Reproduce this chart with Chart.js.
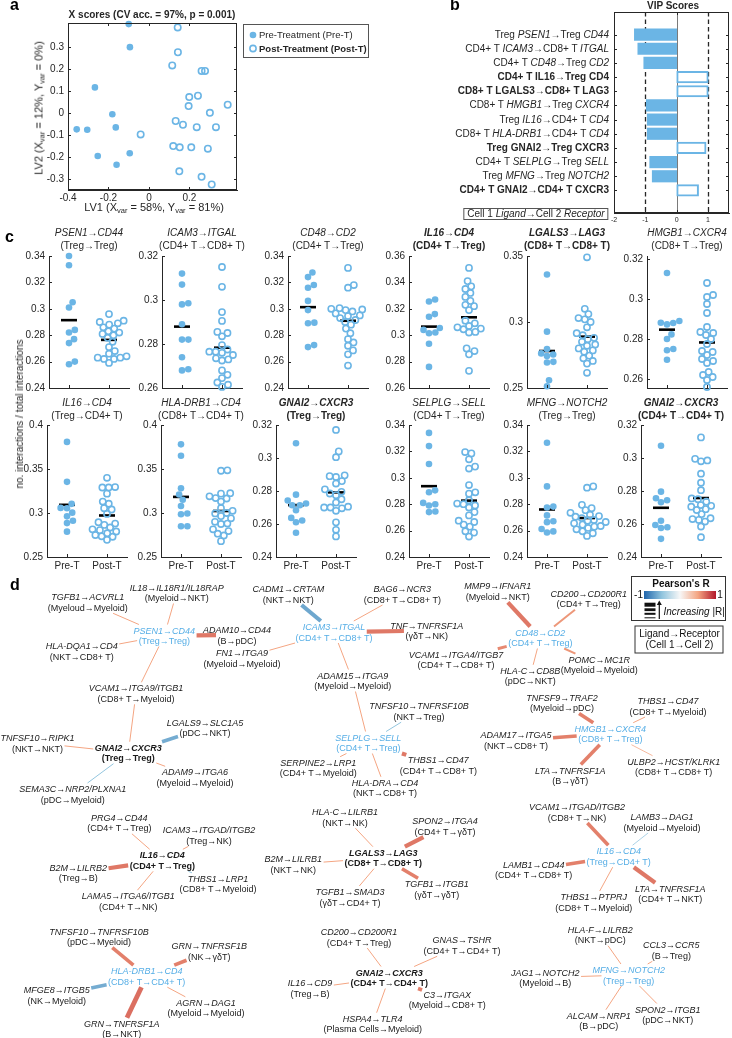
<!DOCTYPE html>
<html>
<head>
<meta charset="utf-8">
<script src="https://cdn.jsdelivr.net/npm/chart.js@4.4.1/dist/chart.umd.min.js"></script>
<style>
body { margin: 0; background: #fff; width: 732px; height: 1038px; position: relative; overflow: hidden;
       font-family: "Liberation Sans", Arial, Helvetica, sans-serif; color: #262626; }
canvas { position: absolute; }
.txt { position: absolute; white-space: nowrap; }
.panel { position: absolute; font-size: 16px; line-height: 16px; font-weight: bold; color: #000; }
sub { font-size: 7.5px; vertical-align: -2px; line-height: 0; }
</style>
</head>
<body>
<script>
const FONT = '"Liberation Sans", Arial, Helvetica, sans-serif';
const BLUE = '#6bb5e5';
const HUBBLUE = '#56aee6';

// ---- panel a: X scores ----
const preLV1 = [-0.100, -0.094, -0.267, -0.181, -0.357, -0.305, -0.164, -0.253, -0.095, -0.160];
const preLV2 = [0.405, 0.300, 0.117, -0.005, -0.074, -0.076, -0.065, -0.195, -0.183, -0.235];
const postLV1 = [0.142, 0.143, 0.115, 0.260, 0.277, 0.199, 0.242, 0.196, 0.389, 0.301, 0.132, 0.168,
                 0.236, 0.331, -0.041, 0.120, 0.152, 0.209, 0.291, 0.150, 0.260, 0.310];
const postLV2 = [0.390, 0.277, 0.217, 0.192, 0.192, 0.073, 0.079, 0.032, 0.038, 0.001, -0.036, -0.053,
                 -0.064, -0.064, -0.097, -0.150, -0.156, -0.156, -0.162, -0.265, -0.290, -0.325];
const lv1Ticks = [-0.4, -0.2, 0, 0.2];
const lv2Ticks = [-0.3, -0.2, -0.1, 0, 0.1, 0.2, 0.3];
const groupNames = ['Pre-Treatment (Pre-T)', 'Post-Treatment (Post-T)'];

// ---- panel b: VIP scores ----
const vipLabels = [
  'Treg <i>PSEN1</i>→Treg <i>CD44</i>',
  'CD4+ T <i>ICAM3</i>→CD8+ T <i>ITGAL</i>',
  'CD4+ T <i>CD48</i>→Treg <i>CD2</i>',
  '<b>CD4+ T IL16→Treg CD4</b>',
  '<b>CD8+ T LGALS3→CD8+ T LAG3</b>',
  'CD8+ T <i>HMGB1</i>→Treg <i>CXCR4</i>',
  'Treg <i>IL16</i>→CD4+ T <i>CD4</i>',
  'CD8+ T <i>HLA-DRB1</i>→CD4+ T <i>CD4</i>',
  '<b>Treg GNAI2→Treg CXCR3</b>',
  'CD4+ T <i>SELPLG</i>→Treg <i>SELL</i>',
  'Treg <i>MFNG</i>→Treg <i>NOTCH2</i>',
  '<b>CD4+ T GNAI2→CD4+ T CXCR3</b>'
];
const vipScores = [-1.35, -1.24, -1.05, 1.01, 1.01, -0.97, -0.94, -0.94, 0.94, -0.86, -0.78, 0.70];
const vipTicks = [-2, -1, 0, 1];

// ---- panel c: no. interactions / total interactions ----
const psen1Pre = [0.340, 0.333, 0.305, 0.301, 0.284, 0.282, 0.277, 0.274, 0.260, 0.258];
const psen1Post = [0.296, 0.291, 0.290, 0.289, 0.288, 0.286, 0.285, 0.283, 0.282, 0.281, 0.280, 0.278, 0.275, 0.271, 0.268, 0.266, 0.264, 0.263, 0.263, 0.262, 0.262, 0.259];
const icam3Pre = [0.312, 0.307, 0.2985, 0.298, 0.289, 0.282, 0.282, 0.274, 0.2685, 0.268];
const icam3Post = [0.315, 0.306, 0.2945, 0.2905, 0.2855, 0.285, 0.2835, 0.2795, 0.2775, 0.2765, 0.2765, 0.276, 0.275, 0.2735, 0.273, 0.2725, 0.268, 0.266, 0.2645, 0.2625, 0.2615, 0.2605];
const cd48Pre = [0.3275, 0.324, 0.318, 0.316, 0.306, 0.299, 0.2895, 0.289, 0.2725, 0.271];
const cd48Post = [0.331, 0.318, 0.316, 0.3005, 0.300, 0.2995, 0.299, 0.298, 0.2965, 0.295, 0.2945, 0.293, 0.2915, 0.290, 0.288, 0.285, 0.2815, 0.277, 0.2745, 0.272, 0.2685, 0.2655, 0.257];
const il16TregPre = [0.327, 0.3255, 0.316, 0.314, 0.3055, 0.304, 0.302, 0.3015, 0.2935, 0.276];
const il16TregPost = [0.351, 0.341, 0.337, 0.335, 0.332, 0.329, 0.326, 0.323, 0.322, 0.319, 0.311, 0.309, 0.307, 0.306, 0.305, 0.3045, 0.3025, 0.302, 0.290, 0.288, 0.2855, 0.273];
const lgals3Pre = [0.336, 0.2927, 0.2795, 0.2762, 0.2754, 0.2742, 0.2698, 0.2693, 0.2559, 0.2513];
const lgals3Post = [0.349, 0.310, 0.306, 0.303, 0.302, 0.300, 0.296, 0.2915, 0.290, 0.288, 0.287, 0.285, 0.283, 0.282, 0.280, 0.2785, 0.2775, 0.2745, 0.2725, 0.2705, 0.2685, 0.2615];
const hmgb1Pre = [0.313, 0.289, 0.2881, 0.288, 0.2873, 0.2823, 0.280, 0.275, 0.2744, 0.2696];
const hmgb1Post = [0.308, 0.302, 0.301, 0.2975, 0.293, 0.286, 0.2835, 0.283, 0.282, 0.280, 0.2775, 0.274, 0.2735, 0.272, 0.270, 0.269, 0.268, 0.2635, 0.262, 0.261, 0.2595, 0.256];
const il16Cd4Pre = [0.3808, 0.3354, 0.3104, 0.3054, 0.3058, 0.3004, 0.2962, 0.2912, 0.2885, 0.2788];
const il16Cd4Post = [0.340, 0.3295, 0.329, 0.329, 0.322, 0.313, 0.3105, 0.3055, 0.304, 0.299, 0.2895, 0.288, 0.2865, 0.2835, 0.2815, 0.2805, 0.279, 0.277, 0.275, 0.2735, 0.273, 0.2695];
const hladrb1Pre = [0.378, 0.365, 0.328, 0.321, 0.315, 0.308, 0.2995, 0.2985, 0.285, 0.285];
const hladrb1Post = [0.3485, 0.348, 0.3225, 0.322, 0.319, 0.317, 0.3165, 0.313, 0.3055, 0.3025, 0.300, 0.2995, 0.2965, 0.294, 0.290, 0.288, 0.2875, 0.2815, 0.2795, 0.2765, 0.2745, 0.268];
const gnai2TregPre = [0.3089, 0.2778, 0.2742, 0.2724, 0.2714, 0.2714, 0.2683, 0.2637, 0.2621, 0.2611, 0.2547];
const gnai2TregPost = [0.317, 0.304, 0.3005, 0.2895, 0.289, 0.2885, 0.286, 0.2845, 0.281, 0.2795, 0.2785, 0.2775, 0.275, 0.273, 0.2705, 0.270, 0.270, 0.2695, 0.268, 0.261, 0.2565, 0.2525];
const selplgPre = [0.334, 0.324, 0.3105, 0.2905, 0.289, 0.281, 0.280, 0.279, 0.2745, 0.274];
const selplgPost = [0.3195, 0.3185, 0.314, 0.3085, 0.307, 0.2945, 0.289, 0.288, 0.283, 0.2805, 0.280, 0.279, 0.2775, 0.274, 0.2715, 0.2675, 0.2665, 0.2645, 0.263, 0.2595, 0.2585, 0.2555];
const mfngPre = [0.3266, 0.2935, 0.2782, 0.2775, 0.2715, 0.2671, 0.2664, 0.2612, 0.2594, 0.2586];
const mfngPost = [0.2935, 0.2925, 0.2795, 0.277, 0.2755, 0.2735, 0.272, 0.271, 0.2705, 0.2695, 0.268, 0.2675, 0.2665, 0.2655, 0.2645, 0.2635, 0.263, 0.262, 0.261, 0.2595, 0.258, 0.256];
const gnai2Cd4Pre = [0.3074, 0.2796, 0.2756, 0.2744, 0.2732, 0.262, 0.2594, 0.258, 0.2576, 0.251];
const gnai2Cd4Post = [0.3125, 0.2995, 0.2985, 0.298, 0.2905, 0.285, 0.2805, 0.2755, 0.275, 0.2735, 0.2715, 0.271, 0.2705, 0.269, 0.2685, 0.266, 0.2635, 0.263, 0.2625, 0.2615, 0.2585, 0.252];

const stripPre = [psen1Pre, icam3Pre, cd48Pre, il16TregPre, lgals3Pre, hmgb1Pre, il16Cd4Pre, hladrb1Pre, gnai2TregPre, selplgPre, mfngPre, gnai2Cd4Pre];
const stripPost = [psen1Post, icam3Post, cd48Post, il16TregPost, lgals3Post, hmgb1Post, il16Cd4Post, hladrb1Post, gnai2TregPost, selplgPost, mfngPost, gnai2Cd4Post];
const stripGenes = ['PSEN1→CD44', 'ICAM3→ITGAL', 'CD48→CD2', 'IL16→CD4', 'LGALS3→LAG3', 'HMGB1→CXCR4',
                    'IL16→CD4', 'HLA-DRB1→CD4', 'GNAI2→CXCR3', 'SELPLG→SELL', 'MFNG→NOTCH2', 'GNAI2→CXCR3'];
const stripCells = ['(Treg→Treg)', '(CD4+ T→CD8+ T)', '(CD4+ T→Treg)', '(CD4+ T→Treg)', '(CD8+ T→CD8+ T)', '(CD8+ T→Treg)',
                    '(Treg→CD4+ T)', '(CD8+ T→CD4+ T)', '(Treg→Treg)', '(CD4+ T→Treg)', '(Treg→Treg)', '(CD4+ T→CD4+ T)'];
const stripBold = [false, false, false, true, true, false, false, false, true, false, false, true];
const stripYMin = [0.24, 0.26, 0.24, 0.26, 0.25, 0.2555, 0.25, 0.25, 0.24, 0.24, 0.24, 0.24];
const stripYMax = [0.34, 0.32, 0.34, 0.36, 0.35, 0.3215, 0.40, 0.40, 0.32, 0.34, 0.34, 0.32];
const stripTicks = [
  [0.24, 0.26, 0.28, 0.30, 0.32, 0.34], [0.26, 0.28, 0.30, 0.32], [0.24, 0.26, 0.28, 0.30, 0.32, 0.34],
  [0.26, 0.28, 0.30, 0.32, 0.34, 0.36], [0.25, 0.30, 0.35], [0.26, 0.28, 0.30, 0.32],
  [0.25, 0.30, 0.35, 0.40], [0.25, 0.30, 0.35, 0.40], [0.24, 0.26, 0.28, 0.30, 0.32],
  [0.24, 0.26, 0.28, 0.30, 0.32, 0.34], [0.24, 0.26, 0.28, 0.30, 0.32, 0.34], [0.24, 0.26, 0.28, 0.30, 0.32]
];
const groupTicks = ['Pre-T', 'Post-T'];

// ---- panel d: networks ----
const netLR = ['PSEN1→CD44', 'TGFB1→ACVRL1', 'IL18→IL18R1/IL18RAP', 'ADAM10→CD44', 'HLA-DQA1→CD4', 'VCAM1→ITGA9/ITGB1',
  'GNAI2→CXCR3', 'TNFSF10→RIPK1', 'LGALS9→SLC1A5', 'ADAM9→ITGA6', 'SEMA3C→NRP2/PLXNA1',
  'ICAM3→ITGAL', 'CADM1→CRTAM', 'BAG6→NCR3', 'TNF→TNFRSF1A', 'FN1→ITGA9', 'ADAM15→ITGA9',
  'SELPLG→SELL', 'TNFSF10→TNFRSF10B', 'SERPINE2→LRP1', 'THBS1→CD47', 'HLA-DRA→CD4',
  'CD48→CD2', 'MMP9→IFNAR1', 'CD200→CD200R1', 'VCAM1→ITGA4/ITGB7', 'HLA-C→CD8B', 'POMC→MC1R',
  'HMGB1→CXCR4', 'TNFSF9→TRAF2', 'THBS1→CD47', 'ADAM17→ITGA5', 'ULBP2→HCST/KLRK1', 'LTA→TNFRSF1A',
  'IL16→CD4', 'PRG4→CD44', 'ICAM3→ITGAD/ITGB2', 'B2M→LILRB2', 'THBS1→LRP1', 'LAMA5→ITGA6/ITGB1',
  'HLA-DRB1→CD4', 'TNFSF10→TNFRSF10B', 'GRN→TNFRSF1B', 'MFGE8→ITGB5', 'AGRN→DAG1', 'GRN→TNFRSF1A',
  'LGALS3→LAG3', 'HLA-C→LILRB1', 'SPON2→ITGA4', 'B2M→LILRB1', 'TGFB1→SMAD3', 'TGFB1→ITGB1',
  'GNAI2→CXCR3', 'CD200→CD200R1', 'GNAS→TSHR', 'IL16→CD9', 'C3→ITGAX', 'HSPA4→TLR4',
  'IL16→CD4', 'VCAM1→ITGAD/ITGB2', 'LAMB3→DAG1', 'LAMB1→CD44', 'THBS1→PTPRJ', 'LTA→TNFRSF1A',
  'MFNG→NOTCH2', 'HLA-F→LILRB2', 'CCL3→CCR5', 'JAG1→NOTCH2', 'SPON2→ITGB1', 'ALCAM→NRP1'];
const netCells = ['(Treg→Treg)', '(Myeloud→Myeloid)', '(Myeloid→NKT)', '(B→pDC)', '(NKT→CD8+ T)', '(CD8+ T→Myeloid)',
  '(Treg→Treg)', '(NKT→NKT)', '(pDC→NKT)', '(Myeloid→Myeloid)', '(pDC→Myeloid)',
  '(CD4+ T→CD8+ T)', '(NKT→NKT)', '(CD8+ T→CD8+ T)', '(γδT→NK)', '(Myeloid→Myeloid)', '(Myeloid→Myeloid)',
  '(CD4+ T→Treg)', '(NKT→Treg)', '(CD4+ T→Myeloid)', '(CD4+ T→CD8+ T)', '(NKT→CD8+ T)',
  '(CD4+ T→Treg)', '(Myeloid→NKT)', '(CD4+ T→Treg)', '(CD4+ T→CD8+ T)', '(pDC→NKT)', '(Myeloid→Myeloid)',
  '(CD8+ T→Treg)', '(Myeloid→pDC)', '(CD8+ T→Myeloid)', '(NKT→CD8+ T)', '(CD8+ T→CD8+ T)', '(B→γδT)',
  '(CD4+ T→Treg)', '(CD4+ T→Treg)', '(Treg→NK)', '(Treg→B)', '(CD8+ T→Myeloid)', '(CD4+ T→NK)',
  '(CD8+ T→CD4+ T)', '(pDC→Myeloid)', '(NK→γδT)', '(NK→Myeloid)', '(Myeloid→Myeloid)', '(B→NKT)',
  '(CD8+ T→CD8+ T)', '(NKT→NK)', '(CD4+ T→γδT)', '(NKT→NK)', '(γδT→CD4+ T)', '(γδT→γδT)',
  '(CD4+ T→CD4+ T)', '(CD4+ T→Treg)', '(CD4+ T→CD4+ T)', '(Treg→B)', '(Myeloid→CD8+ T)', '(Plasma Cells→Myeloid)',
  '(Treg→CD4+ T)', '(CD8+ T→NK)', '(Myeloid→Myeloid)', '(CD4+ T→CD8+ T)', '(CD8+ T→Myeloid)', '(CD4+ T→NKT)',
  '(Treg→Treg)', '(NKT→pDC)', '(B→Treg)', '(Myeloid→B)', '(pDC→NKT)', '(B→pDC)'];
// 1 = hub higher in Pre-T (blue), 2 = hub higher in Post-T (bold), 0 = partner
const netHub = [1, 0, 0, 0, 0, 0,  2, 0, 0, 0, 0,  1, 0, 0, 0, 0, 0,  1, 0, 0, 0, 0,  1, 0, 0, 0, 0, 0,
                1, 0, 0, 0, 0, 0,  2, 0, 0, 0, 0, 0,  1, 0, 0, 0, 0, 0,  2, 0, 0, 0, 0, 0,  2, 0, 0, 0, 0, 0,
                1, 0, 0, 0, 0, 0,  1, 0, 0, 0, 0, 0];
const edgeFrom = [1, 2, 0, 4, 0,  5, 7, 6, 6, 6,  12, 13, 11, 11, 11,  16, 18, 17, 17, 17,  23, 24, 25, 22, 22,
                  29, 30, 31, 28, 28,  35, 36, 37, 34, 34,  41, 42, 40, 40, 40,  47, 46, 49, 46, 46,
                  53, 54, 55, 52, 52,  59, 60, 61, 58, 58,  65, 66, 67, 64, 64];
const edgeTo = [0, 0, 3, 0, 5,  6, 6, 8, 9, 10,  11, 11, 14, 15, 16,  17, 17, 19, 20, 21,  22, 22, 22, 26, 27,
                28, 28, 28, 32, 33,  34, 34, 34, 38, 39,  40, 40, 43, 44, 45,  46, 48, 46, 50, 51,
                52, 52, 52, 56, 57,  58, 58, 58, 62, 63,  64, 64, 64, 68, 69];
const edgeR = [0.5, 0.5, 0.66, 0.5, 0.5,  0.5, 0.5, -0.63, 0.5, -0.5,  -0.66, 0.5, 0.66, 0.5, 0.5,
               0.5, -0.5, 0.5, 0.66, 0.5,  0.66, 0.55, 0.6, 0.5, 0.55,  0.63, 0.5, 0.63, 0.48, 0.63,
               0.5, 0.5, 0.66, -0.5, 0.5,  0.63, 0.63, -0.63, 0.5, 0.69,  0.5, 0.66, 0.5, 0.5, 0.63,
               0.5, 0.5, 0.5, 0.63, 0.5,  0.63, -0.48, 0.63, 0.5, 0.66,  0.5, 0.5, 0.5, 0.5, 0.5];

// node layout (page px)
const netX = [164.3, 87.7, 176.7, 237, 81.7, 136,  128.3, 37.5, 205, 195, 72.7,  334, 288.3, 402.3, 426.7, 242, 352.7,
  368.3, 419, 318.3, 438.3, 385,  540.3, 497.7, 588.7, 456, 530.3, 599.3,  610.3, 562, 668, 516, 673.7, 570.3,
  162.3, 119.3, 209, 78.3, 218, 128.3,  146.7, 99, 209.3, 56.7, 206, 121.7,  383.3, 345, 445, 293.3, 350, 436.7,
  389.3, 359, 462, 310, 447.3, 372.7,  618.7, 577, 662, 533.7, 593.7, 670.3,  628.7, 600.3, 671.3, 545.3, 667.7, 598.7];
const netY = [635.5, 602.3, 592.5, 635, 651, 693.3,  752.7, 743, 727.7, 777.3, 794,  632, 594, 594, 630.7, 658, 680.5,
  742.5, 711.2, 767.7, 765.3, 787.8,  637.5, 591.3, 598.7, 659.7, 675.8, 664.7,  733.7, 702.5, 706, 740.3, 766.7, 775.5,
  860.3, 822.8, 835.3, 872.7, 883.8, 901.2,  976.2, 936.7, 951.2, 995.3, 1007.8, 1028.7,  857.7, 817.2, 826.2, 864.3, 897, 889.2,
  977.5, 937, 945.3, 988.3, 999.7, 1023.7,  856.2, 812, 822, 869.7, 902, 893.7,  975, 934.7, 950.3, 977.5, 1014.5, 1020.7];

// ---------------------------------------------------------------
Chart.defaults.font.family = FONT;
Chart.defaults.font.size = 10;
Chart.defaults.color = '#262626';
Chart.defaults.animation = false;
Chart.defaults.plugins.legend.display = false;
Chart.defaults.plugins.tooltip.enabled = false;

function canvasAt(box, m) {
  const c = document.createElement('canvas');
  const w = box[2] - box[0] + m[0] + m[2], h = box[3] - box[1] + m[1] + m[3];
  c.width = w; c.height = h;
  c.style.left = (box[0] - m[0]) + 'px';
  c.style.top = (box[1] - m[1]) + 'px';
  c.style.width = w + 'px'; c.style.height = h + 'px';
  document.body.appendChild(c);
  return c;
}

function text(x, y, html, o = {}) {
  const d = document.createElement('div');
  d.className = 'txt';
  d.innerHTML = html;
  const s = d.style;
  const size = o.size || 10;
  s.fontSize = size + 'px';
  s.lineHeight = (o.lh || size) + 'px';
  if (o.bold) s.fontWeight = 'bold';
  if (o.color) s.color = o.color;
  s.left = x + 'px'; s.top = y + 'px';
  const tx = o.align === 'right' ? '-100%' : o.align === 'left' ? '0' : '-50%';
  s.transform = `translate(${tx},-50%)` + (o.rot ? ` rotate(${o.rot}deg)` : '');
  s.textAlign = o.align || 'center';
  document.body.appendChild(d);
  return d;
}

function linAxis(min, max, ticks, size, fmt, o = {}) {
  return {
    type: 'linear', min, max, reverse: !!o.reverse, bounds: 'data',
    afterBuildTicks: s => { s.ticks = ticks.map(v => ({ value: v })); },
    afterFit: s => { if (s.isHorizontal()) s.height = size; else s.width = size; },
    grid: { display: false, drawTicks: false },
    border: { display: true, color: '#262626', width: 1 },
    ticks: { display: !!fmt, padding: o.pad ?? 3, autoSkip: false, maxRotation: 0,
             font: { size: o.font || 10 }, color: '#262626',
             callback: (v, i) => fmt ? fmt(v, i) : '' }
  };
}
const num = v => String(Math.round(v * 1000) / 1000);

// MATLAB-like axes: inward ticks and optional box
Chart.register({
  id: 'matlab',
  afterDraw(chart, args, o) {
    const { ctx, chartArea: a } = chart;
    const sx = chart.scales.x, sy = chart.scales.y;
    const len = 3;
    ctx.save();
    ctx.strokeStyle = '#262626'; ctx.lineWidth = 1;
    if (o.box) ctx.strokeRect(a.left + 0.5, a.top + 0.5, a.right - a.left - 1, a.bottom - a.top - 1);
    ctx.beginPath();
    sx.ticks.forEach(t => {
      const p = Math.round(sx.getPixelForValue(t.value)) + 0.5;
      ctx.moveTo(p, a.bottom); ctx.lineTo(p, a.bottom - len);
      if (o.box) { ctx.moveTo(p, a.top); ctx.lineTo(p, a.top + len); }
    });
    sy.ticks.forEach(t => {
      const p = Math.round(sy.getPixelForValue(t.value)) + 0.5;
      ctx.moveTo(a.left, p); ctx.lineTo(a.left + len, p);
      if (o.box) { ctx.moveTo(a.right, p); ctx.lineTo(a.right - len, p); }
    });
    ctx.stroke();
    ctx.restore();
  }
});

// panel letters
[['a', 10, -3.5], ['b', 450, -3.5], ['c', 5, 228.5], ['d', 10, 576.5]].forEach(([t, x, y]) => {
  const d = document.createElement('div');
  d.className = 'panel'; d.textContent = t;
  d.style.left = x + 'px'; d.style.top = y + 'px';
  document.body.appendChild(d);
});

// ---------------- panel a ----------------
const cvA = canvasAt([68, 23, 237, 190], [40, 10, 134, 18]);
new Chart(cvA, {
  type: 'scatter',
  data: { datasets: [
    { data: preLV1.map((x, i) => ({ x, y: preLV2[i] })), pointRadius: 3.3, backgroundColor: BLUE, borderWidth: 0, clip: false },
    { data: postLV1.map((x, i) => ({ x, y: postLV2[i] })), pointRadius: 3.2, borderColor: BLUE, borderWidth: 1.6,
      backgroundColor: 'rgba(0,0,0,0)', clip: false }
  ] },
  options: {
    responsive: false, devicePixelRatio: 1,
    layout: { padding: { left: 0, top: 10, right: 134, bottom: 0 } },
    scales: {
      x: linAxis(-0.4, 0.435, lv1Ticks, 18, num, { pad: 2 }),
      y: linAxis(-0.35, 0.41, lv2Ticks, 40, num, { pad: 4 })
    },
    plugins: { matlab: { box: true } }
  },
  plugins: [{
    id: 'legendA',
    afterDraw(chart) {
      const ctx = chart.ctx, ox = 28, oy = 13;
      ctx.save();
      ctx.strokeStyle = '#555'; ctx.lineWidth = 1;
      ctx.strokeRect(243.5 - ox, 24.5 - oy, 125, 33);
      ctx.fillStyle = BLUE;
      ctx.beginPath(); ctx.arc(253 - ox, 35 - oy, 3.3, 0, 2 * Math.PI); ctx.fill();
      ctx.strokeStyle = BLUE; ctx.lineWidth = 1.6;
      ctx.beginPath(); ctx.arc(253 - ox, 48.5 - oy, 3.1, 0, 2 * Math.PI); ctx.stroke();
      ctx.fillStyle = '#262626'; ctx.textBaseline = 'middle';
      ctx.font = `9.5px ${FONT}`;
      ctx.fillText(groupNames[0], 259 - ox, 35.5 - oy);
      ctx.font = `bold 9.5px ${FONT}`;
      ctx.fillText(groupNames[1], 259 - ox, 49 - oy);
      ctx.restore();
    }
  }]
});
text(152, 15, 'X scores (CV acc. = 97%, p = 0.001)', { bold: true, size: 10 });
text(154, 207, 'LV1 (X<sub>var</sub> = 58%, Y<sub>var</sub> = 81%)', { size: 11 });
text(39, 108, 'LV2 (X<sub>var</sub> = 12%, Y<sub>var</sub> = 0%)', { size: 11, rot: -90 });

// ---------------- panel b ----------------
const boxB = [614, 12, 729, 213];
const cvB = canvasAt(boxB, [8, 10, 3, 14]);
const chartB = new Chart(cvB, {
  type: 'bar',
  data: { datasets: [{
    data: vipScores.map((v, i) => ({ x: v, y: i + 1 })),
    barThickness: 11.5,
    backgroundColor: c => (c.raw.x < 0 ? BLUE : '#ffffff'),
    borderColor: BLUE,
    borderWidth: c => (c.raw.x < 0 ? 0 : 2),
    borderSkipped: false
  }] },
  options: {
    responsive: false, devicePixelRatio: 1, indexAxis: 'y',
    layout: { padding: { left: 0, top: 10, right: 3, bottom: 0 } },
    scales: {
      x: linAxis(-2, 1.67, vipTicks, 14, num, { font: 7, pad: 3 }),
      y: linAxis(0, 13, vipScores.map((v, i) => i + 1), 8, null, { reverse: true })
    },
    plugins: { matlab: { box: true } }
  },
  plugins: [{
    id: 'vipLines',
    beforeDatasetsDraw(chart) {
      const { ctx, chartArea: a, scales: { x } } = chart;
      ctx.save();
      ctx.lineWidth = 1.3; ctx.strokeStyle = '#262626'; ctx.setLineDash([4.5, 3]);
      [-1, 1].forEach(v => {
        const p = Math.round(x.getPixelForValue(v)) + 0.5;
        ctx.beginPath(); ctx.moveTo(p, a.top); ctx.lineTo(p, a.bottom); ctx.stroke();
      });
      ctx.setLineDash([]); ctx.strokeStyle = '#7a7a7a'; ctx.lineWidth = 1;
      const p0 = Math.round(x.getPixelForValue(0)) + 0.5;
      ctx.beginPath(); ctx.moveTo(p0, a.top); ctx.lineTo(p0, a.bottom); ctx.stroke();
      ctx.restore();
    }
  }]
});
text(673, 6, 'VIP Scores', { bold: true, size: 10 });
vipLabels.forEach((lab, i) => {
  const y = 2 + chartB.scales.y.getPixelForValue(i + 1);
  text(609, y, lab, { size: 10, align: 'right' });
});
{
  const lg = text(536, 213.5, 'Cell 1 <i>Ligand</i>→Cell 2 <i>Receptor</i>', { size: 10, lh: 10 });
  lg.style.border = '1px solid #555';
  lg.style.padding = '0 3px';
}

// ---------------- panel c ----------------
function swarm(vals, pxPerUnit, sep) {
  const order = vals.map((v, i) => i).sort((a, b) => vals[a] - vals[b]);
  const placed = [], out = [];
  order.forEach(i => {
    const y = vals[i] * pxPerUnit;
    const cands = [0];
    placed.forEach(p => {
      const dy = Math.abs(p.y - y);
      if (dy < sep) { const dx = Math.sqrt(sep * sep - dy * dy); cands.push(p.x + dx, p.x - dx); }
    });
    cands.sort((a, b) => Math.abs(a) - Math.abs(b));
    const x = cands.find(c => placed.every(p => (p.x - c) ** 2 + (p.y - y) ** 2 >= sep * sep - 0.01));
    placed.push({ x, y });
    out[i] = x;
  });
  return out;
}
const mean = a => a.reduce((s, v) => s + v, 0) / a.length;

const stripLeft = [49, 162, 288, 409, 527, 647, 47, 161, 276, 409, 527, 641];
stripPre.forEach((pre, k) => {
  const post = stripPost[k];
  const row2 = k >= 6;
  const t = row2 ? 425 : 256, b = row2 ? 557 : 388, l = stripLeft[k];
  const box = [l, t, l + 80, b];
  const m = [34, 10, 6, row2 ? 16 : 10];
  const cv = canvasAt(box, m);
  const yPx = (b - t) / (stripYMax[k] - stripYMin[k]);
  const offPre = swarm(pre, yPx, 6.4), offPost = swarm(post, yPx, 6.4);
  const mPre = mean(pre), mPost = mean(post);
  const meanLine = (c, v) => ({ data: [{ x: c - 0.2, y: v }, { x: c + 0.2, y: v }], showLine: true,
    borderColor: '#000', borderWidth: 2.6, pointRadius: 0, borderCapStyle: 'butt', clip: false });
  new Chart(cv, {
    type: 'scatter',
    data: { datasets: [
      { data: pre.map((v, i) => ({ x: 1 + offPre[i] / 40, y: v })), pointRadius: 3.3, backgroundColor: BLUE, borderWidth: 0, clip: false },
      { data: post.map((v, i) => ({ x: 2 + offPost[i] / 40, y: v })), pointRadius: 3.1, borderColor: BLUE, borderWidth: 1.6,
        backgroundColor: 'rgba(0,0,0,0)', clip: false },
      meanLine(1, mPre), meanLine(2, mPost)
    ] },
    options: {
      responsive: false, devicePixelRatio: 1,
      layout: { padding: { left: 0, top: m[1], right: m[2], bottom: 0 } },
      scales: {
        x: linAxis(0.5, 2.5, [1, 2], m[3], row2 ? (v, i) => groupTicks[i] : null, { pad: 3 }),
        y: linAxis(stripYMin[k], stripYMax[k], stripTicks[k], m[0], num, { pad: 4 })
      },
      plugins: { matlab: { box: false } }
    }
  });
  const cx = l + 40;
  const g = stripBold[k] ? `<b><i>${stripGenes[k]}</i></b>` : `<i>${stripGenes[k]}</i>`;
  text(cx, row2 ? 403 : 233, g, { size: 10 });
  text(cx, row2 ? 416 : 246, stripCells[k], { size: 10, bold: stripBold[k] });
});
text(20, 414, 'no. interactions / total interactions', { size: 10, rot: -90 });

// ---------------- panel d ----------------
const rStops = [[-1, [33, 102, 172]], [-0.5, [146, 197, 222]], [0, [247, 247, 247]], [0.5, [244, 165, 130]], [1, [178, 24, 43]]];
function rColor(r) {
  for (let i = 0; i < rStops.length - 1; i++) {
    const [r0, c0] = rStops[i], [r1, c1] = rStops[i + 1];
    if (r >= r0 && r <= r1) {
      const f = (r - r0) / (r1 - r0);
      return 'rgb(' + c0.map((c, j) => Math.round(c + (c1[j] - c) * f)).join(',') + ')';
    }
  }
  return 'rgb(178,24,43)';
}
const rWidth = r => Math.max(0.8, 1 + (Math.abs(r) - 0.5) * 20);

// label boxes: one rectangle per text line (top = ligand→receptor, bottom = cells)
const boxes = netLR.map((lr, i) => {
  const hub = netHub[i];
  let html = `<span><i>${lr}</i></span><br><span>${netCells[i]}</span>`;
  if (hub === 2) html = `<b>${html}</b>`;
  const d = text(netX[i], netY[i], html, { size: 9, lh: 10.5, color: hub === 1 ? HUBBLUE : '#1a1a1a' });
  const sp = d.querySelectorAll('span');
  const r = d.getBoundingClientRect();
  return { cx: netX[i], cy: netY[i], hh: r.height / 2 + 0.5,
           hwTop: sp[0].getBoundingClientRect().width / 2 + 1.5,
           hwBot: sp[1].getBoundingClientRect().width / 2 + 1.5 };
});

function exitT(bx, dx, dy) {
  const hw = dy < 0 ? bx.hwTop : dy > 0 ? bx.hwBot : Math.max(bx.hwTop, bx.hwBot);
  const tx = dx !== 0 ? hw / Math.abs(dx) : Infinity;
  const ty = dy !== 0 ? bx.hh / Math.abs(dy) : Infinity;
  return Math.min(tx, ty);
}
const edgeSets = edgeFrom.map((f, i) => {
  const A = boxes[f], B = boxes[edgeTo[i]];
  const dx = B.cx - A.cx, dy = B.cy - A.cy;
  const t0 = exitT(A, dx, dy), t1 = 1 - exitT(B, -dx, -dy);
  return {
    data: [{ x: A.cx + dx * t0, y: A.cy + dy * t0 }, { x: A.cx + dx * t1, y: A.cy + dy * t1 }],
    showLine: true, pointRadius: 0, borderColor: rColor(edgeR[i]), borderWidth: rWidth(edgeR[i]),
    borderCapStyle: 'butt', clip: false
  };
});

const cvD = canvasAt([0, 570, 732, 1038], [0, 0, 0, 0]);
cvD.style.zIndex = '-1';
new Chart(cvD, {
  type: 'scatter',
  data: { datasets: edgeSets },
  options: {
    responsive: false, devicePixelRatio: 1,
    layout: { padding: 0 },
    scales: {
      x: { type: 'linear', display: false, min: 0, max: 732 },
      y: { type: 'linear', display: false, min: 570, max: 1038, reverse: true }
    },
    plugins: { matlab: false }
  },
  plugins: [{
    id: 'netLegend',
    afterDraw(chart) {
      const ctx = chart.ctx, sx = chart.scales.x, sy = chart.scales.y;
      const X = v => sx.getPixelForValue(v), Y = v => sy.getPixelForValue(v);
      ctx.save();
      ctx.strokeStyle = '#333'; ctx.lineWidth = 1;
      ctx.strokeRect(X(631) + 0.5, Y(576) + 0.5, 94, 44);
      ctx.strokeRect(X(634.5) + 0.5, Y(625.5) + 0.5, 88, 27);
      const g = ctx.createLinearGradient(X(644), 0, X(716), 0);
      rStops.forEach(([r, c]) => g.addColorStop((r + 1) / 2, `rgb(${c.join(',')})`));
      ctx.fillStyle = g;
      ctx.fillRect(X(644), Y(591), 72, 8);
      ctx.fillStyle = '#111';
      ctx.textBaseline = 'middle'; ctx.textAlign = 'center';
      ctx.font = `bold 10px ${FONT}`;
      ctx.fillText("Pearson's R", X(681), Y(584.5));
      ctx.font = `10px ${FONT}`;
      ctx.fillText('-1', X(638.5), Y(595.5));
      ctx.fillText('1', X(720), Y(595.5));
      [[604.7, 4], [609.7, 2.8], [613.8, 2], [617.8, 1]].forEach(([y, w]) => {
        ctx.fillRect(X(644.5), Y(y) - w / 2, 11, w);
      });
      ctx.lineWidth = 1.2; ctx.strokeStyle = '#111';
      ctx.beginPath(); ctx.moveTo(X(659.3), Y(619)); ctx.lineTo(X(659.3), Y(603)); ctx.stroke();
      ctx.beginPath(); ctx.moveTo(X(656.8), Y(605)); ctx.lineTo(X(659.3), Y(600.5)); ctx.lineTo(X(661.8), Y(605)); ctx.closePath(); ctx.fill();
      ctx.textAlign = 'left';
      ctx.font = `italic 10px ${FONT}`;
      ctx.fillText('Increasing', X(663.5), Y(612.5));
      const w = ctx.measureText('Increasing ').width;
      ctx.font = `10px ${FONT}`;
      ctx.fillText('|R|', X(663.5) + w, Y(612.5));
      ctx.textAlign = 'center';
      ctx.fillText('Ligand→Receptor', X(679.5), Y(634.5));
      ctx.fillText('(Cell 1→Cell 2)', X(679.5), Y(645.5));
      ctx.restore();
    }
  }]
});
</script>
</body>
</html>
